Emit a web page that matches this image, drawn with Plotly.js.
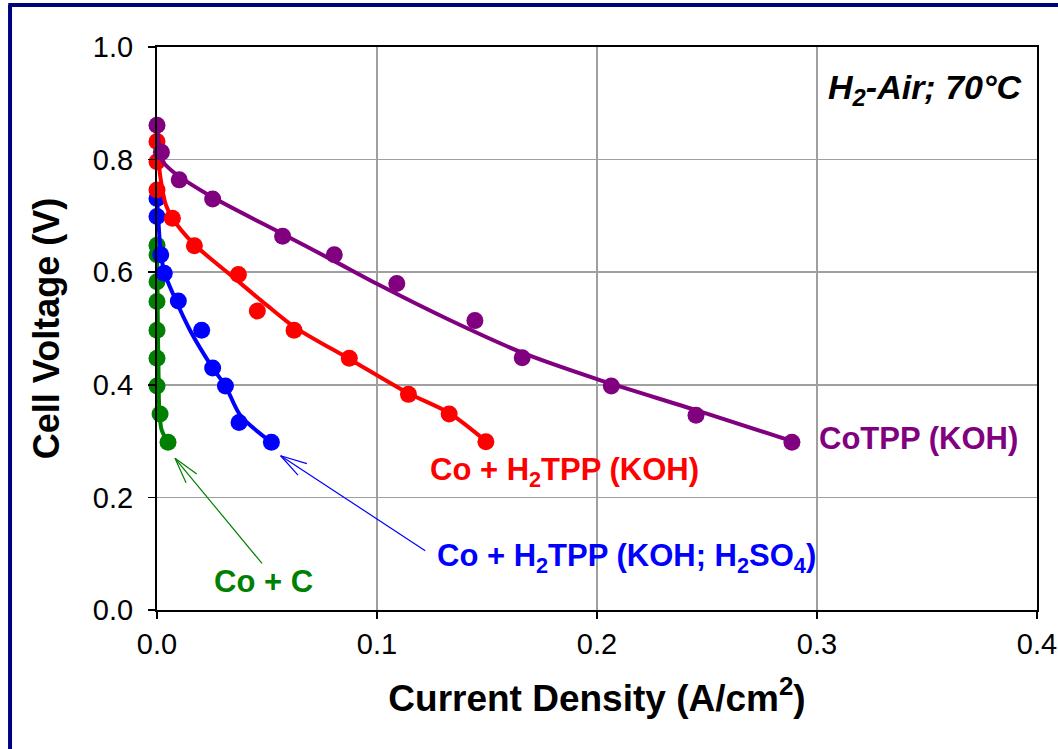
<!DOCTYPE html>
<html>
<head>
<meta charset="utf-8">
<script src="https://cdn.plot.ly/plotly-3.0.1.min.js"></script>
<style>
html,body{margin:0;padding:0;background:#fff;}
#chart{width:1058px;height:749px;}
</style>
</head>
<body>
<div id="chart"></div>
<script>
// ---- data ----
// CoTPP (KOH)
const cotppX = [0.0, 0.002, 0.0101, 0.0253, 0.0571, 0.0806, 0.109, 0.1445, 0.166, 0.2065, 0.245, 0.2886];
const cotppV = [0.861, 0.813, 0.764, 0.730, 0.664, 0.631, 0.580, 0.514, 0.448, 0.398, 0.346, 0.298];
const cotppFitX = [0.0, 0.0012, 0.0022, 0.0074, 0.0253, 0.0571, 0.080, 0.1006, 0.133, 0.166, 0.200, 0.245, 0.2886];
const cotppFitV = [0.864, 0.817, 0.799, 0.778, 0.733, 0.668, 0.621, 0.578, 0.515, 0.457, 0.410, 0.355, 0.300];

// Co + H2TPP (KOH)
const redX = [0.0, 0.0, 0.0, 0.007, 0.017, 0.037, 0.0456, 0.0623, 0.0874, 0.1143, 0.1328, 0.1495];
const redV = [0.832, 0.796, 0.746, 0.696, 0.647, 0.596, 0.531, 0.497, 0.447, 0.383, 0.348, 0.299];
const redFitX = [0.0, 0.0015, 0.004, 0.007, 0.0165, 0.035, 0.050, 0.0623, 0.0874, 0.1143, 0.1328, 0.1495];
const redFitV = [0.832, 0.770, 0.720, 0.696, 0.651, 0.590, 0.541, 0.503, 0.446, 0.385, 0.350, 0.300];

// Co + H2TPP (KOH; H2SO4)
const blueX = [0.0, 0.0, 0.0017, 0.0033, 0.0097, 0.0203, 0.0253, 0.0311, 0.0373, 0.052];
const blueV = [0.731, 0.699, 0.631, 0.598, 0.549, 0.497, 0.430, 0.398, 0.333, 0.298];
const blueFitX = [0.0, 0.0005, 0.0017, 0.0035, 0.008, 0.015, 0.0253, 0.0311, 0.038, 0.052];
const blueFitV = [0.731, 0.700, 0.635, 0.598, 0.555, 0.497, 0.430, 0.398, 0.345, 0.298];

// Co + C
const greenX = [0.0, 0.0, 0.0, 0.0, 0.0, 0.0, 0.0, 0.0014, 0.005];
const greenV = [0.648, 0.631, 0.583, 0.548, 0.497, 0.447, 0.398, 0.348, 0.298];
const greenFitX = [0.0, 0.0002, 0.0004, 0.0007, 0.0010, 0.0021, 0.005];
const greenFitV = [0.648, 0.580, 0.500, 0.420, 0.360, 0.320, 0.298];

const xTicks = [0.0, 0.1, 0.2, 0.3, 0.4];
const yTicks = [0.0, 0.2, 0.4, 0.6, 0.8, 1.0];

const seriesNames = ['CoTPP (KOH)', 'Co + H<sub>2</sub>TPP (KOH)', 'Co + H<sub>2</sub>TPP (KOH; H<sub>2</sub>SO<sub>4</sub>)', 'Co + C'];
const colors = ['#800080', '#FF0000', '#0000FF', '#008000'];

// ---- traces ----
function fit(x, y, c) {
  return {x: x, y: y, mode: 'lines', line: {color: c, width: 4, shape: 'spline', smoothing: 0.8}, hoverinfo: 'skip', showlegend: false, cliponaxis: false};
}
function pts(x, y, c, n) {
  return {x: x, y: y, mode: 'markers', name: n, marker: {color: c, size: 17}, showlegend: false, cliponaxis: false};
}
const data = [
  fit(greenFitX, greenFitV, colors[3]), pts(greenX, greenV, colors[3], seriesNames[3]),
  fit(blueFitX, blueFitV, colors[2]), pts(blueX, blueV, colors[2], seriesNames[2]),
  fit(redFitX, redFitV, colors[1]), pts(redX, redV, colors[1], seriesNames[1]),
  fit(cotppFitX, cotppFitV, colors[0]), pts(cotppX, cotppV, colors[0], seriesNames[0])
];

const FONT = 'Liberation Sans, Arial, sans-serif';
const labelFont = (c) => ({family: FONT, size: 31, color: c});

// arrow definitions: [tipX, tipY, tailX, tailY, barb1X, barb1Y, barb2X, barb2Y]
const greenArrow = [0.00818, 0.2695, 0.0483, 0.080, 0.01877, 0.2398, 0.0135, 0.2233];
const blueArrow = [0.0562, 0.274, 0.1226, 0.1036, 0.0688, 0.2593, 0.0647, 0.2368];
function arrowLines(a, c) {
  const seg = (x0, y0, x1, y1) => ({x: x1, y: y1, ax: x0, ay: y0, xref: 'x', yref: 'y', axref: 'x', ayref: 'y', text: '', showarrow: true, arrowhead: 0, arrowwidth: 1.2, arrowcolor: c, standoff: 0, startstandoff: 0});
  return [seg(a[2], a[3], a[0], a[1]), seg(a[4], a[5], a[0], a[1]), seg(a[6], a[7], a[0], a[1])];
}

const layout = {
  width: 1058, height: 749,
  margin: {l: 157, r: 21, t: 47, b: 139},
  paper_bgcolor: '#ffffff', plot_bgcolor: '#ffffff',
  font: {family: FONT, color: '#000'},
  showlegend: false,
  xaxis: {
    range: [0, 0.4], tickvals: xTicks, ticktext: xTicks.map(v => v.toFixed(1)),
    ticks: 'outside', ticklen: 7, tickcolor: '#000', tickwidth: 1.5,
    showgrid: true, gridcolor: '#a0a0a0', gridwidth: 1.5,
    showline: true, linecolor: '#000', linewidth: 2, mirror: true,
    zeroline: false,
    tickfont: {family: FONT, size: 29, color: '#000'},
    title: {text: '<b>Current Density (A/cm<sup>2</sup>)</b>', font: {family: FONT, size: 37, color: '#000'}, standoff: 26}
  },
  yaxis: {
    range: [0, 1.0], tickvals: yTicks, ticktext: yTicks.map(v => v.toFixed(1)),
    ticks: 'outside', ticklen: 7, tickcolor: '#000', tickwidth: 1.5,
    ticklabelstandoff: 9,
    showgrid: true, gridcolor: '#a0a0a0', gridwidth: 1.5,
    showline: true, linecolor: '#000', linewidth: 2, mirror: true,
    zeroline: false,
    tickfont: {family: FONT, size: 29, color: '#000'},
    title: {text: '<b>Cell Voltage (V)</b>', font: {family: FONT, size: 36, color: '#000'}, standoff: 22}
  },
  annotations: [
    {x: 0.3, y: 0.304, xref: 'x', yref: 'y', text: '<b>' + seriesNames[0] + '</b>', showarrow: false, xanchor: 'left', yanchor: 'middle', font: labelFont(colors[0])},
    {x: 0.185, y: 0.245, xref: 'x', yref: 'y', text: '<b>' + seriesNames[1] + '</b>', showarrow: false, xanchor: 'center', yanchor: 'middle', font: labelFont(colors[1])},
    {x: 0.2132, y: 0.092, xref: 'x', yref: 'y', text: '<b>' + seriesNames[2] + '</b>', showarrow: false, xanchor: 'center', yanchor: 'middle', font: labelFont(colors[2])},
    {x: 0.0482, y: 0.050, xref: 'x', yref: 'y', text: '<b>' + seriesNames[3] + '</b>', showarrow: false, xanchor: 'center', yanchor: 'middle', font: labelFont(colors[3])},
    {x: 0.394, y: 0.924, xref: 'x', yref: 'y', text: '<b><i>H<sub>2</sub>-Air; 70°C</i></b>', showarrow: false, xanchor: 'right', yanchor: 'middle', font: {family: FONT, size: 34, color: '#000'}}
  ].concat(arrowLines(greenArrow, colors[3]), arrowLines(blueArrow, colors[2])),
  shapes: [
    {type: 'line', xref: 'paper', yref: 'paper', x0: -0.167, x1: -0.167, y0: 1.0746, y1: -0.3, line: {color: '#000080', width: 4}},
    {type: 'line', xref: 'paper', yref: 'paper', x0: -0.169, x1: 1.1, y0: 1.0746, y1: 1.0746, line: {color: '#000080', width: 4}}
  ]
};

Plotly.newPlot('chart', data, layout, {displayModeBar: false, staticPlot: true});
</script>
</body>
</html>
